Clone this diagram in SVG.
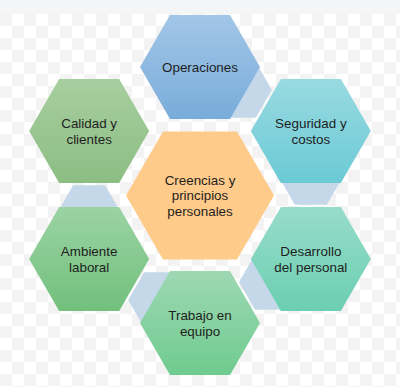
<svg xmlns="http://www.w3.org/2000/svg" width="400" height="387" viewBox="0 0 400 387">
<defs>
<pattern id="chk" x="0" y="14" width="24" height="24" patternUnits="userSpaceOnUse">
<rect width="24" height="24" fill="#ffffff"/>
<rect width="12" height="12" fill="#f3f3f3"/>
<rect x="12" y="12" width="12" height="12" fill="#f3f3f3"/>
</pattern>
<linearGradient id="gOp" x1="0" y1="0" x2="0" y2="1"><stop offset="0" stop-color="#a2c6e7"/><stop offset="1" stop-color="#79acda"/></linearGradient>
<linearGradient id="gSeg" x1="0" y1="0" x2="0" y2="1"><stop offset="0" stop-color="#99dae1"/><stop offset="1" stop-color="#6bcad5"/></linearGradient>
<linearGradient id="gDes" x1="0" y1="0" x2="0" y2="1"><stop offset="0" stop-color="#98dccb"/><stop offset="1" stop-color="#6bcfb1"/></linearGradient>
<linearGradient id="gTra" x1="0" y1="0" x2="0" y2="1"><stop offset="0" stop-color="#9ed8b3"/><stop offset="1" stop-color="#6fcb8f"/></linearGradient>
<linearGradient id="gAmb" x1="0" y1="0" x2="0" y2="1"><stop offset="0" stop-color="#9bd3a4"/><stop offset="1" stop-color="#72c07c"/></linearGradient>
<linearGradient id="gCal" x1="0" y1="0" x2="0" y2="1"><stop offset="0" stop-color="#a7ce9f"/><stop offset="1" stop-color="#8cbe83"/></linearGradient>
</defs>
<style>
.lbl{font-family:"Liberation Sans",Arial,sans-serif;font-size:13.4px;fill:#1e1e1e;text-anchor:middle}
.con{fill:#c5d8ea}
</style>
<rect width="400" height="387" fill="url(#chk)"/>
<rect width="400" height="14" fill="#f4f5f7"/>
<g id="connectors">
<polygon class="con" points="271.84,90 255.84,117.71 223.84,117.71 207.84,90 223.84,62.29 255.84,62.29"/>
<polygon class="con" points="342.85,177 326.85,204.71 294.85,204.71 278.85,177 294.85,149.29 326.85,149.29"/>
<polygon class="con" points="303.02,282 287.02,309.71 255.02,309.71 239.02,282 255.02,254.29 287.02,254.29"/>
<polygon class="con" points="192.16,300 176.16,327.71 144.16,327.71 128.16,300 144.16,272.29 176.16,272.29"/>
<polygon class="con" points="121.15,213 105.15,240.71 73.15,240.71 57.15,213 73.15,185.29 105.15,185.29"/>
</g>
<g id="operaciones">
<polygon fill="url(#gOp)" points="260,67 230,118.96 170,118.96 140,67 170,15.04 230,15.04"/>
<text class="lbl" x="200" y="71.7">Operaciones</text>
</g>
<g id="seguridad">
<polygon fill="url(#gSeg)" points="370.85,131 340.85,182.96 280.85,182.96 250.85,131 280.85,79.04 340.85,79.04"/>
<text class="lbl" x="310.85" y="128.3">Seguridad y</text>
<text class="lbl" x="310.85" y="144.2">costos</text>
</g>
<g id="desarrollo">
<polygon fill="url(#gDes)" points="370.85,259 340.85,310.96 280.85,310.96 250.85,259 280.85,207.04 340.85,207.04"/>
<text class="lbl" x="310.85" y="256">Desarrollo</text>
<text class="lbl" x="310.85" y="271.9">del personal</text>
</g>
<g id="trabajo">
<polygon fill="url(#gTra)" points="260,323 230,374.96 170,374.96 140,323 170,271.04 230,271.04"/>
<text class="lbl" x="200" y="320">Trabajo en</text>
<text class="lbl" x="200" y="335.9">equipo</text>
</g>
<g id="ambiente">
<polygon fill="url(#gAmb)" points="149.15,259 119.15,310.96 59.15,310.96 29.15,259 59.15,207.04 119.15,207.04"/>
<text class="lbl" x="89.15" y="256">Ambiente</text>
<text class="lbl" x="89.15" y="271.9">laboral</text>
</g>
<g id="calidad">
<polygon fill="url(#gCal)" points="149.15,131 119.15,182.96 59.15,182.96 29.15,131 59.15,79.04 119.15,79.04"/>
<text class="lbl" x="89.15" y="128.3">Calidad y</text>
<text class="lbl" x="89.15" y="144.2">clientes</text>
</g>
<g id="creencias">
<polygon fill="#fecb8a" points="274,195.5 237,259.59 163,259.59 126,195.5 163,131.41 237,131.41"/>
<text class="lbl" x="200" y="184.5">Creencias y</text>
<text class="lbl" x="200" y="200.2">principios</text>
<text class="lbl" x="200" y="215.9">personales</text>
</g>
</svg>
